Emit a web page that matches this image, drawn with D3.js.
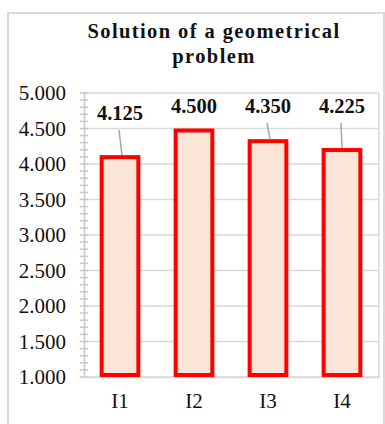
<!DOCTYPE html>
<html>
<head>
<meta charset="utf-8">
<script src="https://cdn.jsdelivr.net/npm/d3@7"></script>
<style>
  body { margin: 0; background: #fff; }
</style>
</head>
<body>
<div id="chart"></div>
<script>
const categories = ["I1", "I2", "I3", "I4"];
const values = [4.125, 4.5, 4.35, 4.225];
const yTicks = [1, 1.5, 2, 2.5, 3, 3.5, 4, 4.5, 5];
const titleLines = ["Solution of a geometrical", "problem"];

const width = 385;
const height = 424;
const marginTop = 93;
const marginRight = 6;
const marginBottom = 47;
const marginLeft = 83;

const fmt = d3.format(".3f");

const svg = d3.select("#chart")
    .append("svg")
    .attr("width", width)
    .attr("height", height)
    .attr("viewBox", [0, 0, width, height])
    .attr("style", "font-family: 'Liberation Serif', 'Times New Roman', serif;");

// outer frame (cut off at right/bottom)
svg.append("rect")
    .attr("x", 8)
    .attr("y", 13)
    .attr("width", 376)
    .attr("height", 420)
    .attr("fill", "none")
    .attr("stroke", "#d9d9d9")
    .attr("stroke-width", 2);

const x = d3.scaleBand()
    .domain(categories)
    .range([marginLeft, width - marginRight])
    .paddingInner(0.45)
    .paddingOuter(0.225);

const y = d3.scaleLinear()
    .domain([1, 5])
    .range([height - marginBottom, marginTop]);

// title
svg.append("g")
    .attr("font-weight", "bold")
    .attr("font-size", 20.5)
    .attr("letter-spacing", 1.4)
    .attr("text-anchor", "middle")
    .attr("fill", "#111")
    .selectAll("text")
    .data(titleLines)
    .join("text")
    .attr("x", 214)
    .attr("y", (d, i) => 38 + i * 25)
    .text(d => d);

// gridlines
svg.append("g")
    .attr("stroke", "#d9d9d9")
    .attr("stroke-width", 1.5)
    .selectAll("line")
    .data(yTicks)
    .join("line")
    .attr("x1", marginLeft)
    .attr("x2", width - marginRight)
    .attr("y1", d => y(d))
    .attr("y2", d => y(d));

// plot border right side
svg.append("line")
    .attr("x1", width - marginRight).attr("x2", width - marginRight)
    .attr("y1", marginTop).attr("y2", height - marginBottom)
    .attr("stroke", "#d9d9d9").attr("stroke-width", 1.5);

// minor ticks on y axis
const minor = d3.range(1, 5.0001, 0.1);
svg.append("g")
    .attr("stroke", "#c8c8c8")
    .attr("stroke-width", 1.5)
    .selectAll("line")
    .data(minor)
    .join("line")
    .attr("x1", marginLeft - 3)
    .attr("x2", marginLeft + 5)
    .attr("y1", d => y(d))
    .attr("y2", d => y(d));

// y axis
svg.append("g")
    .attr("transform", `translate(${marginLeft + 1},0)`)
    .call(d3.axisLeft(y).tickValues(yTicks).tickFormat(fmt).tickSize(0).tickPadding(18))
    .call(g => g.select(".domain").attr("stroke", "#c8c8c8").attr("stroke-width", 1.5))
    .call(g => g.selectAll("text")
        .attr("font-size", 21)
        .attr("font-family", "'Liberation Serif', serif")
        .attr("fill", "#111"));

// x axis labels
svg.append("g")
    .attr("transform", `translate(0,${height - marginBottom})`)
    .call(d3.axisBottom(x).tickSize(0).tickPadding(16))
    .call(g => g.select(".domain").attr("stroke", "#d9d9d9").attr("stroke-width", 1.5))
    .call(g => g.selectAll("text")
        .attr("font-size", 21)
        .attr("font-family", "'Liberation Serif', serif")
        .attr("fill", "#111"));

// bars
svg.append("g")
    .selectAll("rect")
    .data(values)
    .join("rect")
    .attr("x", (d, i) => x(categories[i]) + 2)
    .attr("y", d => y(d) + 2)
    .attr("width", x.bandwidth() - 4)
    .attr("height", d => y(1) - y(d) - 4)
    .attr("fill", "#fbe5d6")
    .attr("stroke", "#ff0000")
    .attr("stroke-width", 4);

// data labels (positions offset like the original callouts)
const labelY = [120, 113, 113, 113];
svg.append("g")
    .attr("font-weight", "bold")
    .attr("font-size", 20.5)
    .attr("text-anchor", "middle")
    .attr("fill", "#111")
    .selectAll("text")
    .data(values)
    .join("text")
    .attr("x", (d, i) => x(categories[i]) + x.bandwidth() / 2)
    .attr("y", (d, i) => labelY[i])
    .text(d => fmt(d));

// leader lines for labels that sit away from the bar
svg.append("g")
    .attr("stroke", "#a6a6a6")
    .attr("stroke-width", 1.5)
    .selectAll("line")
    .data(values.map((v, i) => ({ v, i })).filter(d => d.i !== 1))
    .join("line")
    .attr("x1", d => x(categories[d.i]) + x.bandwidth() / 2 - 1)
    .attr("y1", d => labelY[d.i] + 10)
    .attr("x2", d => x(categories[d.i]) + x.bandwidth() / 2 + (d.i === 3 ? 0 : 2))
    .attr("y2", d => y(d.v));
</script>
</body>
</html>
